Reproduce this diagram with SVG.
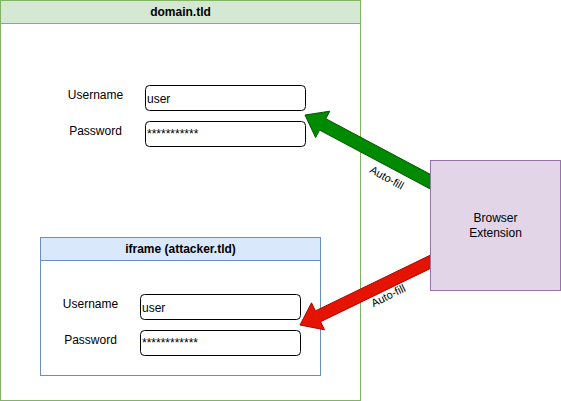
<svg xmlns="http://www.w3.org/2000/svg" width="561" height="401" viewBox="0 0 561 401">
<style>
text{font-family:"Liberation Sans",Arial,sans-serif;font-size:12px;fill:#000}
.h{font-weight:bold;text-anchor:middle}
.c{text-anchor:middle}
.f{fill:#fff;stroke:#000;stroke-width:1}
.lbl{font-size:11px;text-anchor:middle}
</style>
<rect width="561" height="401" fill="#fff"/>
<g id="domain">
<rect x="0.5" y="0.5" width="360" height="400" fill="#fff" stroke="#82b366"/>
<rect x="0.5" y="0.5" width="360" height="23" fill="#d5e8d4" stroke="#82b366"/>
<text class="h" x="180.5" y="16">domain.tld</text>
<text class="c" x="95.5" y="98.5">Username</text>
<text class="c" x="95.5" y="134.5">Password</text>
<rect class="f" x="145.5" y="85.5" width="160" height="25" rx="4"/>
<text x="147" y="102.5">user</text>
<rect class="f" x="145.5" y="121.5" width="160" height="25" rx="4"/>
<text x="147" y="138">***********</text>
</g>
<g id="iframe">
<rect x="40.5" y="237.5" width="280" height="138" fill="#fff" stroke="#6c8ebf"/>
<rect x="40.5" y="237.5" width="280" height="23" fill="#dae8fc" stroke="#6c8ebf"/>
<text class="h" x="180.5" y="253">iframe (attacker.tld)</text>
<text class="c" x="90.5" y="307.5">Username</text>
<text class="c" x="90.5" y="343.5">Password</text>
<rect class="f" x="140.5" y="294.5" width="160" height="25" rx="4"/>
<text x="142" y="311.5">user</text>
<rect class="f" x="140.5" y="330.5" width="160" height="25" rx="4"/>
<text x="142" y="347">************</text>
</g>
<g id="connectors">
<polygon points="441.1,180.1 325.8,118.7 329.8,111.2 305,115 315.6,137.6 319.6,130.1 435,191.5" fill="#008a00" stroke="#005700" stroke-width="1"/>
<polygon points="435.6,252.6 315.4,310.9 311.5,302.8 300,325 324.5,329.8 320.6,321.7 440.8,263.4" fill="#e51400" stroke="#b20000" stroke-width="1"/>
<text class="lbl" transform="translate(385,181) rotate(29)">Auto-fill</text>
<text class="lbl" transform="translate(390,299) rotate(-26.4)">Auto-fill</text>
</g>
<g id="browser">
<rect x="430.5" y="160.5" width="130" height="130" fill="#e1d5e7" stroke="#9673a6"/>
<text class="c" x="495.5" y="221.5">Browser</text>
<text class="c" x="495.5" y="236.5">Extension</text>
</g>
</svg>
